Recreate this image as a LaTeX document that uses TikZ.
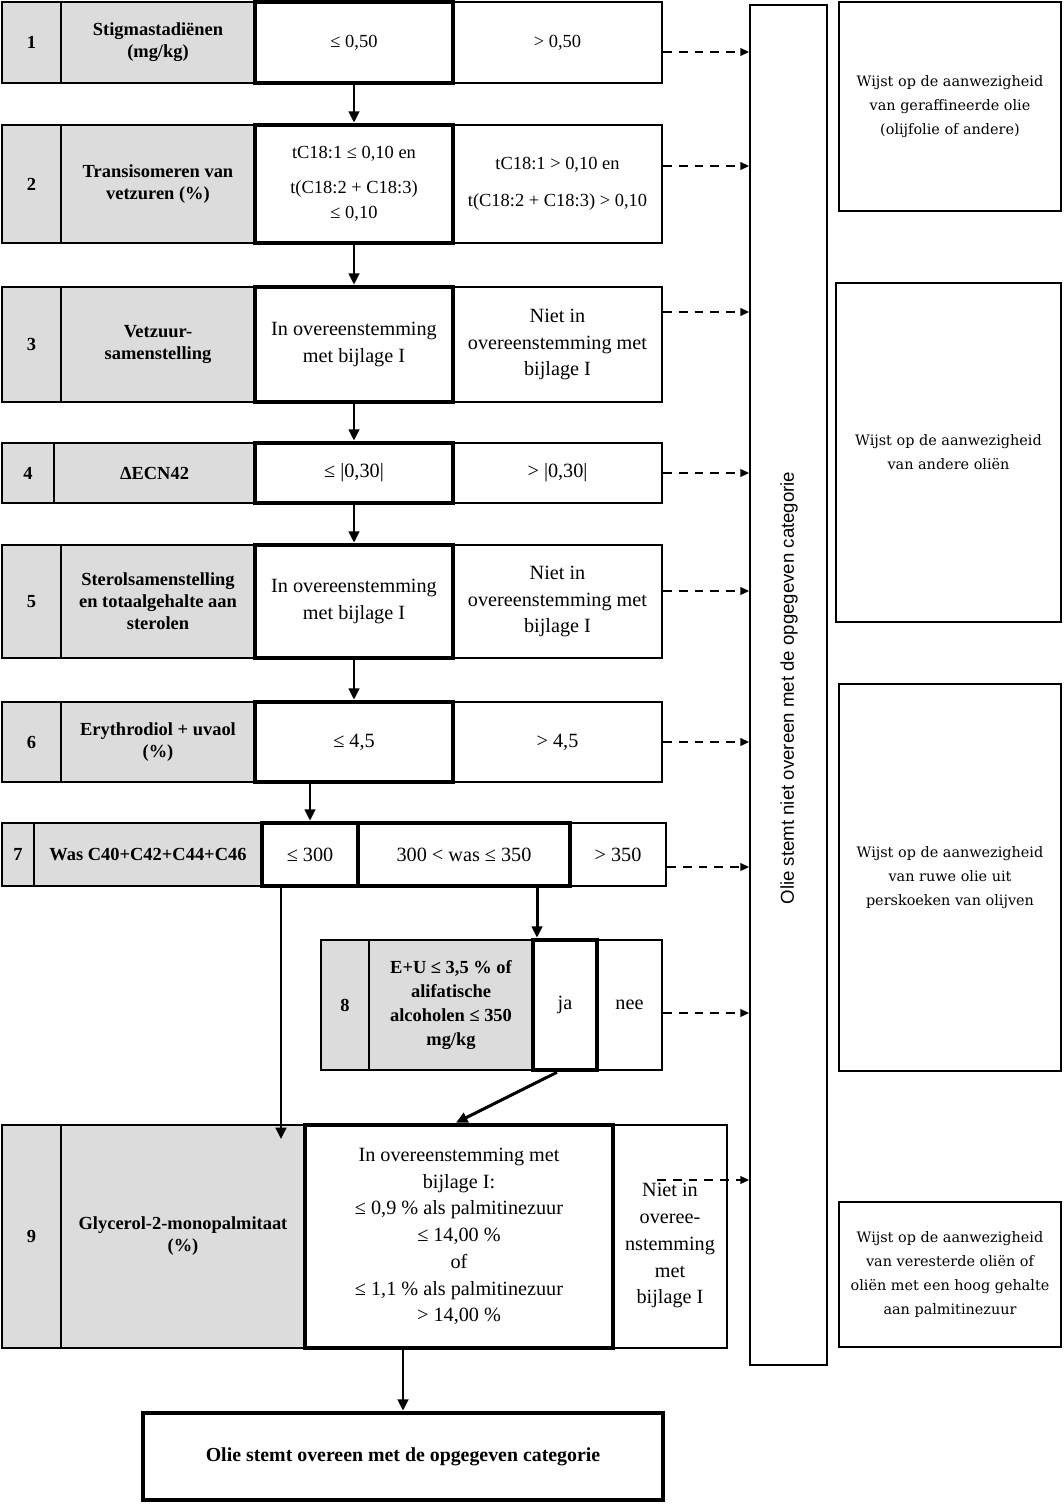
\documentclass[tikz,border=0pt]{standalone}
\usepackage{fontspec}
\setmainfont{Liberation Serif}
\newfontfamily\rotfont{Liberation Sans}
\newfontfamily\notefont{DejaVu Serif}
\usepackage{xcolor}
\usetikzlibrary{arrows.meta, positioning, calc}
\definecolor{cellgray}{RGB}{220,220,220}

\begin{document}
\begin{tikzpicture}[
  sz/.style 2 args={minimum width=#1cm, minimum height=#2cm},
  num/.style={draw, fill=cellgray, line width=1.1pt, inner sep=2pt,
              font=\fontsize{10.5}{12.5}\selectfont\bfseries},
  lab/.style={draw, fill=cellgray, line width=1.1pt, align=center, inner sep=2pt,
              font=\fontsize{10.5}{12.5}\selectfont\bfseries},
  alt/.style={draw, line width=1.1pt, align=center, inner sep=2pt,
              font=\fontsize{11.5}{15.2}\selectfont},
  val/.style={draw, line width=2.6pt, align=center, inner sep=2pt,
              font=\fontsize{11.5}{15.2}\selectfont},
  small/.style={font=\fontsize{10.5}{14}\selectfont},
  note/.style={draw, line width=1.1pt, align=center,
               font=\notefont\fontsize{8.2}{13.6}\selectfont},
  thk/.style={-{Triangle[length=6.5pt,width=6pt]}, line width=1.7pt},
  dsh/.style={-{Triangle[length=5pt,width=4.5pt]}, line width=0.85pt,
              dash pattern=on 5pt off 4pt},
]
\useasboundingbox (0,0) rectangle (21.26,-30.08);

%% ---- Row 1 ----
\node[num, sz={1.18}{1.62}] (n1) at (0.63,-0.85) {1};
\node[lab, sz={3.88}{1.62}] (l1) at (3.16,-0.85) {Stigmastadiënen\\(mg/kg)};
\node[alt, small, sz={4.18}{1.62}] (o1) at (11.15,-0.85) {> 0,50};
\node[val, small, sz={3.96}{1.62}] (v1) at (7.08,-0.85) {≤ 0,50};

%% ---- Row 2 ----
\node[num, sz={1.18}{2.36}] (n2) at (0.63,-3.68) {2};
\node[lab, sz={3.88}{2.36}] (l2) at (3.16,-3.68) {Transisomeren van\\vetzuren (\%)};
\node[alt, small, sz={4.18}{2.36}] (o2) at (11.15,-3.68)
  {tC18:1 > 0,10 en\\[7pt]t(C18:2 + C18:3) > 0,10};
\node[val, small, sz={3.96}{2.36}] (v2) at (7.08,-3.68)
  {tC18:1 ≤ 0,10 en\\[6pt]t(C18:2 + C18:3)\\≤ 0,10};

%% ---- Row 3 ----
\node[num, sz={1.18}{2.30}] (n3) at (0.63,-6.89) {3};
\node[lab, sz={3.88}{2.30}] (l3) at (3.16,-6.89) {Vetzuur-\\samenstelling};
\node[alt, sz={4.18}{2.30}] (o3) at (11.15,-6.89)
  {Niet in\\overeenstemming met\\bijlage I};
\node[val, sz={3.96}{2.30}] (v3) at (7.08,-6.89) {In overeenstemming\\met bijlage I};

%% ---- Row 4 ----
\node[num, sz={1.04}{1.20}] (n4) at (0.56,-9.46) {4};
\node[lab, sz={4.02}{1.20}] (l4) at (3.09,-9.46) {ΔECN42};
\node[alt, sz={4.18}{1.20}] (o4) at (11.15,-9.46) {> |0,30|};
\node[val, sz={3.96}{1.20}] (v4) at (7.08,-9.46) {≤ |0,30|};

%% ---- Row 5 ----
\node[num, sz={1.18}{2.26}] (n5) at (0.63,-12.03) {5};
\node[lab, sz={3.88}{2.26}] (l5) at (3.16,-12.03)
  {Sterolsamenstelling\\en totaalgehalte aan\\sterolen};
\node[alt, sz={4.18}{2.26}] (o5) at (11.15,-12.03)
  {Niet in\\overeenstemming met\\bijlage I};
\node[val, sz={3.96}{2.26}] (v5) at (7.08,-12.03) {In overeenstemming\\met bijlage I};

%% ---- Row 6 ----
\node[num, sz={1.18}{1.60}] (n6) at (0.63,-14.84) {6};
\node[lab, sz={3.88}{1.60}] (l6) at (3.16,-14.84) {Erythrodiol + uvaol\\(\%)};
\node[alt, sz={4.18}{1.60}] (o6) at (11.15,-14.84) {> 4,5};
\node[val, sz={3.96}{1.60}] (v6) at (7.08,-14.84) {≤ 4,5};

%% ---- Row 7 (two thick cells) ----
\node[num, sz={0.64}{1.26}] (n7) at (0.36,-17.09) {7};
\node[lab, sz={4.56}{1.26}] (l7) at (2.96,-17.09) {Was C40+C42+C44+C46};
\node[alt, sz={1.92}{1.26}] (o7) at (12.36,-17.09) {> 350};
\node[val, sz={1.92}{1.26}] (a7) at (6.20,-17.09) {≤ 300};
\node[val, sz={4.24}{1.26}] (b7) at (9.28,-17.09) {300 < was ≤ 350};

%% ---- Row 8 ----
\node[num, sz={0.96}{2.60}] (n8) at (6.90,-20.10) {8};
\node[lab, sz={3.28}{2.60}, font=\fontsize{10.5}{13.5}\selectfont\bfseries] (l8) at (9.02,-20.10)
  {E+U ≤ 3,5 \% of\\alifatische\\alcoholen ≤ 350\\mg/kg};
\node[alt, sz={1.30}{2.60}] (o8) at (12.59,-20.10) {nee};
\node[val, sz={1.28}{2.60}] (v8) at (11.30,-20.10) {ja};

%% ---- Row 9 ----
\node[num, sz={1.18}{4.46}] (n9) at (0.63,-24.73) {9};
\node[lab, sz={4.88}{4.46}] (l9) at (3.66,-24.73) {Glycerol-2-monopalmitaat\\(\%)};
\node[alt, sz={2.28}{4.46}] (o9) at (13.40,-24.73)
  {\mbox{}\\[3pt]Niet in\\overee-\\nstemming\\met\\bijlage I};
\node[val, sz={6.16}{4.46}] (v9) at (9.18,-24.73)
  {In overeenstemming met\\bijlage I:\\≤ 0,9 \% als palmitinezuur\\≤ 14,00 \%\\of\\
   ≤ 1,1 \% als palmitinezuur\\> 14,00 \%};

%% ---- Final box ----
\node[val, sz={10.4}{1.74}, font=\fontsize{11.3}{14}\selectfont\bfseries] (F) at (8.06,-29.13)
  {Olie stemt overeen met de opgegeven categorie};

%% ---- Tall box + explanation boxes ----
\node[draw, line width=1.1pt, sz={1.54}{27.2}] (T) at (15.77,-13.70) {};
\node[rotate=90, font=\rotfont\fontsize{10.6}{12}\selectfont] (Tt) at (15.78,-13.76)
  {Olie stemt niet overeen met de opgegeven categorie};

\node[note, sz={4.44}{4.18}] (eA) at (19.00,-2.13)
  {Wijst op de aanwezigheid\\van geraffineerde olie\\(olijfolie of andere)};
\node[note, sz={4.50}{6.78}] (eB) at (18.97,-9.05)
  {Wijst op de aanwezigheid\\van andere oliën};
\node[note, sz={4.44}{7.74}] (eC) at (19.00,-17.55)
  {Wijst op de aanwezigheid\\van ruwe olie uit\\perskoeken van olijven};
\node[note, sz={4.44}{2.90}] (eD) at (19.00,-25.49)
  {Wijst op de aanwezigheid\\van veresterde oliën of\\oliën met een hoog gehalte\\aan palmitinezuur};

%% ---- Main flow (solid arrows) ----
\draw[thk] (v1.south) -- (v2.north);
\draw[thk] (v2.south) -- (v3.north);
\draw[thk] (v3.south) -- (v4.north);
\draw[thk] (v4.south) -- (v5.north);
\draw[thk] (v5.south) -- (v6.north);
\draw[thk] (a7.north |- v6.south) -- (a7.north);
\draw[thk] ([xshift=-0.58cm]a7.south) coordinate (w1) -- ([yshift=-0.3cm]l9.north -| w1);
\draw[thk] ([xshift=1.46cm]b7.south) coordinate (w2) -- (w2 |- v8.north);
\draw[thk] ([xshift=-0.16cm]v8.south) -- ([xshift=-0.06cm]v9.north);
\draw[thk] (F.north |- v9.south) -- (F.north);

%% ---- Rejections (dashed arrows to tall box) ----
\draw[dsh] ([yshift=-0.19cm]o1.east) -- ([yshift=-0.19cm]o1.east -| T.west);
\draw[dsh] ([yshift=0.36cm]o2.east)  -- ([yshift=0.36cm]o2.east -| T.west);
\draw[dsh] ([yshift=0.65cm]o3.east)  -- ([yshift=0.65cm]o3.east -| T.west);
\draw[dsh] (o4.east) -- (o4.east -| T.west);
\draw[dsh] ([yshift=0.21cm]o5.east)  -- ([yshift=0.21cm]o5.east -| T.west);
\draw[dsh] (o6.east) -- (o6.east -| T.west);
\draw[dsh] ([yshift=-0.25cm]o7.east) -- ([yshift=-0.25cm]o7.east -| T.west);
\draw[dsh] ([yshift=-0.16cm]o8.east) -- ([yshift=-0.16cm]o8.east -| T.west);
\coordinate (d9) at (13.14,-23.60);
\draw[dsh] (d9) -- (d9 -| T.west);
\end{tikzpicture}
\end{document}
